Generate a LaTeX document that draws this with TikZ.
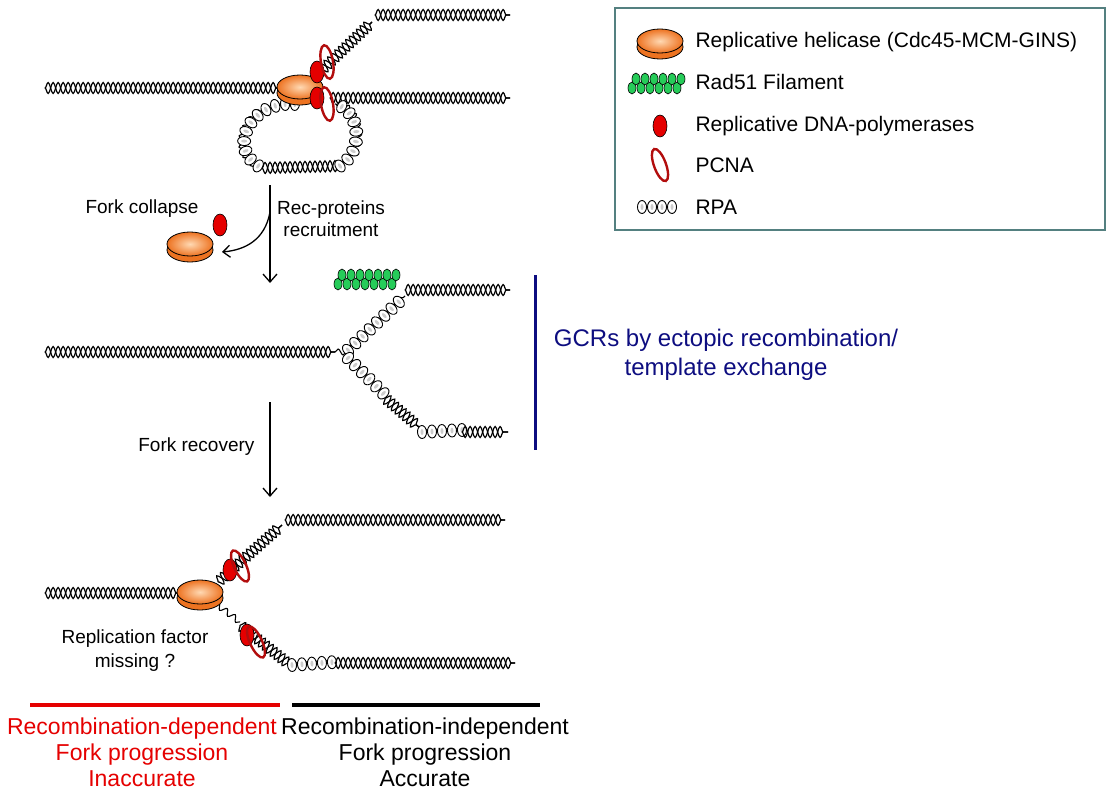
\documentclass[tikz,border=0pt]{standalone}
\usepackage{fontspec}
\setmainfont{Liberation Sans}
\usetikzlibrary{decorations.pathmorphing,decorations.markings,arrows.meta}
\definecolor{my-orange}{rgb}{0.93,0.45,0.13}
\definecolor{my-red}{rgb}{0.90,0.00,0.00}
\definecolor{my-pcna}{rgb}{0.70,0.05,0.05}
\definecolor{my-green}{rgb}{0.15,0.80,0.35}
\definecolor{my-navy}{rgb}{0.05,0.05,0.50}
\definecolor{my-frame}{rgb}{0.33,0.50,0.50}
\tikzset{
  dna/.style={line width=1.2pt,
    postaction={draw,decorate,decoration={snake,amplitude=5.5pt,segment length=10pt}},
    postaction={draw,decorate,decoration={snake,amplitude=-5.5pt,segment length=10pt}}},
  ss/.style={line width=1.1pt,postaction={draw,decorate,decoration={snake,amplitude=3pt,segment length=10pt}}},
  rpa/.style={postaction={decorate,decoration={markings,
    mark=between positions 0 and 1 step 10pt with {\draw[fill=white,line width=0.9pt] (0,0) ellipse (4.5pt and 6.5pt);
      \fill[gray!40] (0,0) ellipse (1.5pt and 3pt);}}}},
  rad/.style={postaction={decorate,decoration={markings,
    mark=between positions 0 and 1 step 9pt with {\draw[fill=my-green,line width=0.6pt] (0,4) ellipse (4pt and 6pt);
      \draw[fill=my-green,line width=0.6pt] (4,-5) ellipse (4pt and 6pt);}}}},
  lbl/.style={font=\fontsize{20}{23}\selectfont,align=center},
  leg/.style={font=\fontsize{21}{24}\selectfont,anchor=west}
}
\newcommand\helicase[2]{%
  \begin{scope}[shift={(#1,#2)}]
    \draw[line width=0.8pt,fill=my-orange] (0,5) ellipse (23pt and 12pt);
    \draw[line width=0.8pt,inner color=orange!30,outer color=my-orange] (0,-1) ellipse (23pt and 12pt);
  \end{scope}}
\newcommand\polym[3]{\draw[line width=0.6pt,fill=my-red] (#1,#2) ellipse (7pt and 11pt);}
\newcommand\pcna[3]{\draw[my-pcna,line width=2.4pt] (#1,#2) ellipse[x radius=6pt,y radius=17pt,rotate=#3];}
\begin{document}
\begin{tikzpicture}[x=1pt,y=-1pt]
  \useasboundingbox (0,0) rectangle (1114,800);
  % top fork
  \path[dna] (45,88) -- (280,88);
  \path[dna] (322,70) -- (372,22);
  \path[dna] (375,15) -- (510,15);
  \path[dna] (330,98) -- (510,98);
  \path[ss,rpa] (295,104) .. controls (250,100) and (225,150) .. (262,168);
  \path[dna] (262,168) -- (340,166);
  \path[ss,rpa] (340,166) .. controls (365,150) and (360,110) .. (335,104);
  \helicase{300}{88}
  \polym{317}{72}{0}
  \polym{317}{98}{0}
  \pcna{327}{62}{10}
  \pcna{327}{104}{10}
  % arrows and labels
  \coordinate (a1) at (270,185);
  \coordinate (a1e) at (270,283);
  \coordinate (c1) at (222,252);
  \draw[line width=1.3pt,-{Straight Barb[length=8pt,width=14pt]}] (a1) -- (a1e);
  \draw[line width=1.3pt,-{Straight Barb[length=7pt,width=12pt]}] (270,212) .. controls (265,240) and (245,250) .. (c1);
  \helicase{190}{245}
  \polym{220}{225}{0}
  \node[lbl,font=\fontsize{19}{22}\selectfont] (collapse) at (142,209) {Fork collapse};
  \node[lbl,font=\fontsize{19}{22}\selectfont] (rec) at (331,219) {Rec-proteins\\recruitment};
  % middle fork
  \path[dna] (45,352) -- (335,352);
  \path[ss] (335,352) -- (348,352);
  \path[ss,rpa] (348,350) -- (405,296);
  \path[dna] (405,290) -- (510,290);
  \path[rad] (338,280) -- (395,280);
  \path[ss,rpa] (348,358) -- (385,395);
  \path[dna] (385,398) -- (420,428);
  \path[ss,rpa] (422,432) -- (462,430);
  \path[dna] (462,432) -- (508,432);
  \draw[my-navy,line width=3pt] (535,275) -- (535,450);
  \node[lbl,font=\fontsize{24}{29}\selectfont,text=my-navy] (gcr) at (726,355) {GCRs by ectopic recombination/\\template exchange};
  \coordinate (a2) at (270,402);
  \coordinate (a2e) at (270,497);
  \draw[line width=1.3pt,-{Straight Barb[length=8pt,width=14pt]}] (a2) -- (a2e);
  \node[lbl,font=\fontsize{19}{22}\selectfont,anchor=east] (recov) at (258,447) {Fork recovery};
  % bottom fork
  \path[dna] (45,593) -- (180,593);
  \path[dna] (218,582) -- (282,525);
  \path[dna] (285,520) -- (505,520);
  \path[ss] (215,603) -- (240,622);
  \path[dna] (240,625) -- (290,665);
  \path[ss,rpa] (292,665) -- (335,662);
  \path[dna] (335,663) -- (515,663);
  \helicase{200}{593}
  \polym{230}{570}{0}
  \polym{247}{635}{0}
  \pcna{240}{566}{25}
  \pcna{256}{642}{25}
  \node[lbl,font=\fontsize{19}{24}\selectfont] (missing) at (135,651) {Replication factor\\missing ?};
  % bottom bars
  \draw[my-red,line width=4pt] (30,705) -- (280,705);
  \draw[line width=4pt] (292,705) -- (540,705);
  \node[lbl,font=\fontsize{23}{26}\selectfont,text=my-red,anchor=north] (dep) at (142,714) {Recombination-dependent\\Fork progression\\Inaccurate};
  \node[lbl,font=\fontsize{23}{26}\selectfont,anchor=north] (indep) at (425,714) {Recombination-independent\\Fork progression\\Accurate};
  % legend
  \draw[my-frame,line width=2pt] (615,8) rectangle (1105,230);
  \helicase{660}{42}
  \path[rad] (632,84) -- (680,84);
  \polym{660}{126}{0}
  \pcna{660}{165}{20}
  \path[rpa] (642,207) -- (678,207);
  \node[leg] (l1) at (692,42) {Replicative helicase (Cdc45-MCM-GINS)};
  \node[leg] (l2) at (692,82) {Rad51 Filament};
  \node[leg] (l3) at (692,126) {Replicative DNA-polymerases};
  \node[leg] (l4) at (692,165) {PCNA};
  \node[leg] (l5) at (692,207) {RPA};
\end{tikzpicture}
\end{document}
